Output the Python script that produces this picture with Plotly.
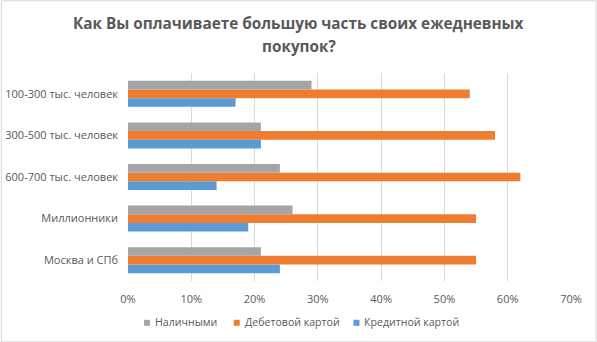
import plotly.graph_objects as go

categories = ["Москва и СПб", "Миллионники", "600-700 тыс. человек", "300-500 тыс. человек", "100-300 тыс. человек"]
cash = [21, 26, 24, 21, 29]
debit = [55, 55, 62, 58, 54]
credit = [24, 19, 14, 21, 17]
tick_vals = [0, 10, 20, 30, 40, 50, 60, 70]
tick_text = ["0%", "10%", "20%", "30%", "40%", "50%", "60%", "70%"]
title_lines = ["Как Вы оплачиваете большую часть своих ежедневных", "покупок?"]
series_names = ["Наличными", "Дебетовой картой", "Кредитной картой"]
series_colors = ["#a5a5a5", "#ed7d31", "#5b9bd5"]

W, H = 597, 342
ml, mr, mt, mb = 127.5, 25.5, 72.7, 61.3
pw = W - ml - mr
ph = H - mt - mb


def px_x(x):
    return (x - ml) / pw


def px_y(y):
    return (H - mb - y) / ph


fig = go.Figure()
for vals, name, color in zip([credit, debit, cash], series_names[::-1], series_colors[::-1]):
    fig.add_trace(go.Bar(y=categories, x=vals, orientation="h", name=name,
                         marker=dict(color=color, line=dict(width=0)), showlegend=False))

# border
fig.add_shape(type="rect", xref="paper", yref="paper",
              x0=px_x(0.5), x1=px_x(W - 0.5), y0=px_y(H - 0.5), y1=px_y(0.5),
              line=dict(color="#d9d9d9", width=1), layer="below")

# title
for i, (line, yc) in enumerate(zip(title_lines, [23, 46])):
    fig.add_annotation(text="<b>" + line + "</b>", xref="paper", yref="paper",
                       x=px_x(298.5), y=px_y(yc), xanchor="center", yanchor="middle",
                       showarrow=False, font=dict(size=15.3, color="#595959", family="Open Sans"))

# custom legend
leg_y = 322
marker_x = [146.5, 236.5, 356.5]
for name, color, mx in zip(series_names, series_colors, marker_x):
    fig.add_shape(type="rect", xref="paper", yref="paper",
                  x0=px_x(mx - 3), x1=px_x(mx + 3), y0=px_y(leg_y + 3.5), y1=px_y(leg_y - 2.5),
                  fillcolor=color, line=dict(width=0))
    fig.add_annotation(text=name, xref="paper", yref="paper",
                       x=px_x(mx + 6), y=px_y(leg_y), xanchor="left", yanchor="middle",
                       showarrow=False, font=dict(size=10.6, color="#595959", family="Open Sans"))

fig.update_layout(
    width=W, height=H,
    margin=dict(l=ml, r=mr, t=mt, b=mb, pad=0, autoexpand=False),
    paper_bgcolor="white", plot_bgcolor="white",
    barmode="group", bargap=0.375, bargroupgap=0,
    font=dict(family="Open Sans", color="#595959", size=11),
    xaxis=dict(range=[0, 70], tickvals=tick_vals, ticktext=tick_text,
               showgrid=True, gridcolor="#d9d9d9", gridwidth=1,
               zeroline=False, showline=False, ticks="", ticklabelstandoff=10,
               automargin=False, fixedrange=True),
    yaxis=dict(categoryorder="array", categoryarray=categories,
               showgrid=False, zeroline=False, showline=False, ticks="",
               ticklabelstandoff=9, automargin=False),
    showlegend=False,
)
fig.write_html("out.html")
